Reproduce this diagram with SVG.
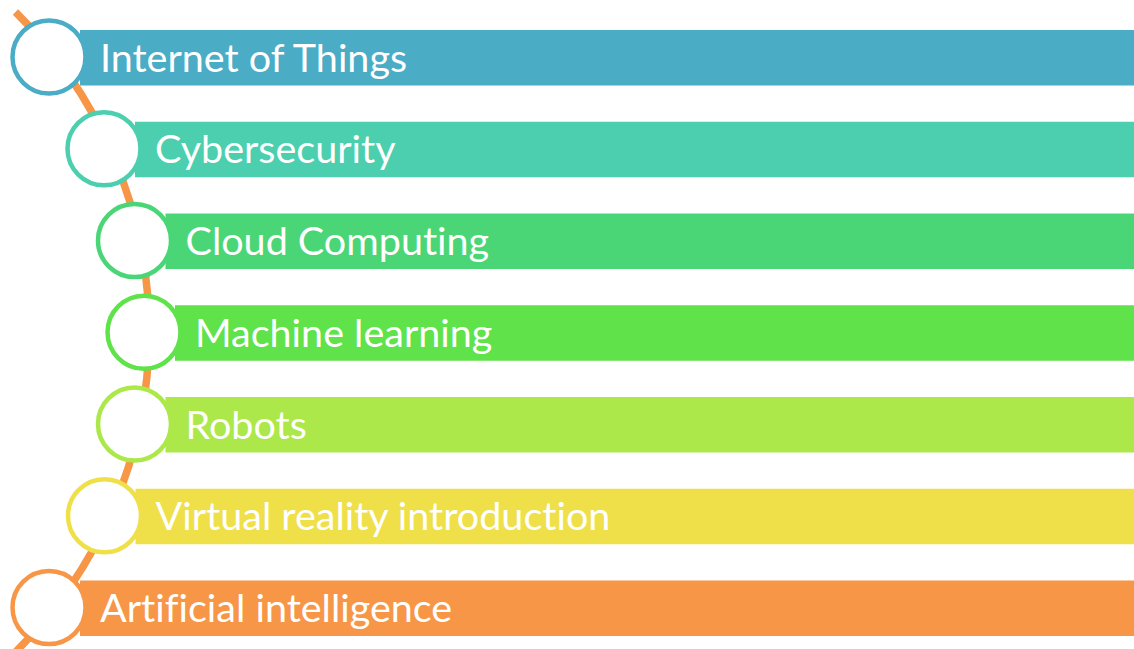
<svg xmlns="http://www.w3.org/2000/svg" width="1134" height="649" viewBox="0 0 1134 649">
  <style>
    .bar { stroke: none; }
    .ring { fill: #ffffff; stroke-width: 4.5; }
    .label { font-family: Lato, "Open Sans", "Liberation Sans", sans-serif; font-size: 39.5px; fill: #ffffff; font-variant-ligatures: none; font-feature-settings: "liga" 0, "clig" 0; }
    .spine { fill: none; stroke: #F79646; stroke-width: 7.5; stroke-linecap: butt; }
  </style>
  <rect width="1134" height="649" fill="#ffffff"/>

  <!-- curved spine running behind the rings -->
  <g id="connectors">
    <path class="spine" d="M 15.5 12 A 450 450 0 0 1 15.5 652"/>
  </g>

  <g id="node-iot">
    <rect class="bar" x="80" y="30" width="1054" height="55.5" fill="#4BACC6"/>
    <circle class="ring" cx="49" cy="57" r="36.5" stroke="#4BACC6"/>
    <text class="label" x="100" y="71.5">Internet of Things</text>
  </g>

  <g id="node-cybersecurity">
    <rect class="bar" x="135" y="121.75" width="999" height="55.5" fill="#4BCFAE"/>
    <circle class="ring" cx="104" cy="148.75" r="36.5" stroke="#4BCFAE"/>
    <text class="label" x="155" y="163.25">Cybersecurity</text>
  </g>

  <g id="node-cloud">
    <rect class="bar" x="165.5" y="213.5" width="968.5" height="55.5" fill="#4AD676"/>
    <circle class="ring" cx="134.5" cy="240.5" r="36.5" stroke="#4AD676"/>
    <text class="label" x="185.5" y="255">Cloud Computing</text>
  </g>

  <g id="node-ml">
    <rect class="bar" x="175" y="305.25" width="959" height="55.5" fill="#5FE24A"/>
    <circle class="ring" cx="144" cy="332.25" r="36.5" stroke="#5FE24A"/>
    <text class="label" x="195" y="346.75">Machine learning</text>
  </g>

  <g id="node-robots">
    <rect class="bar" x="165.5" y="397" width="968.5" height="55.5" fill="#ACE84A"/>
    <circle class="ring" cx="134.5" cy="424" r="36.5" stroke="#ACE84A"/>
    <text class="label" x="185.5" y="438.5">Robots</text>
  </g>

  <g id="node-vr">
    <rect class="bar" x="135.5" y="488.75" width="998.5" height="55.5" fill="#EFE049"/>
    <circle class="ring" cx="104.5" cy="515.75" r="36.5" stroke="#EFE049"/>
    <text class="label" x="155.5" y="530.25">Virtual reality introduction</text>
  </g>

  <g id="node-ai">
    <rect class="bar" x="80" y="580.5" width="1054" height="55.5" fill="#F79646"/>
    <circle class="ring" cx="49" cy="607.5" r="36.5" stroke="#F79646"/>
    <text class="label" x="100" y="622">Artificial intelligence</text>
  </g>
</svg>
